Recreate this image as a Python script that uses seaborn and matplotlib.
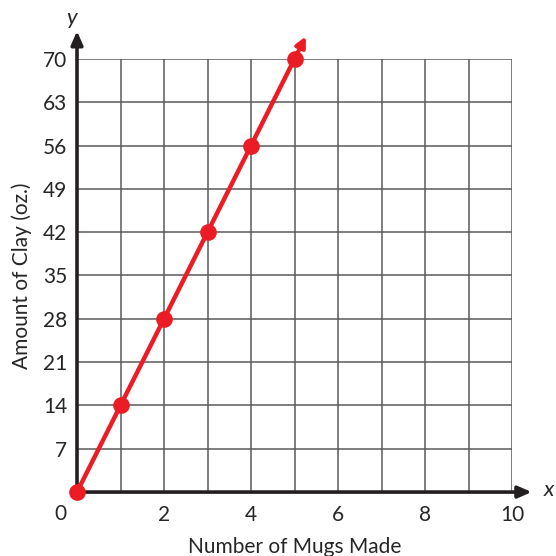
import matplotlib
matplotlib.use("Agg")
import matplotlib.pyplot as plt
import pandas as pd
import seaborn as sns

# data
mugs = [0, 1, 2, 3, 4, 5]
clay = [0, 14, 28, 42, 56, 70]
x_ticks = list(range(0, 11))
x_labels = ["", "", "2", "", "4", "", "6", "", "8", "", "10"]
y_ticks = list(range(0, 71, 7))
y_labels = [""] + [str(v) for v in y_ticks[1:]]

RED = "#ec1c24"
GRID = "#5a5a5a"

sns.set_style("white")
plt.rcParams["font.family"] = ["Lato", "DejaVu Sans"]

df = pd.DataFrame({"mugs": mugs, "clay": clay})

fig = plt.figure(figsize=(5.56, 5.56), dpi=100)
ax = fig.add_axes([0.1385, 0.115, 0.7825, 0.779])

ax.set_xlim(0, 10)
ax.set_ylim(0, 70)
ax.set_xticks(x_ticks)
ax.set_xticklabels(x_labels, fontsize=15)
ax.set_yticks(y_ticks)
ax.set_yticklabels(y_labels, fontsize=15)
ax.tick_params(length=0, pad=7)
ax.tick_params(axis="x", pad=9)
ax.grid(True, color=GRID, linewidth=1.1)
for s in ax.spines.values():
    s.set_visible(False)

# axes with arrows
ax.annotate("", xy=(10.45, 0), xytext=(0, 0), annotation_clip=False,
            arrowprops=dict(arrowstyle="-|>,head_length=0.8,head_width=0.35",
                            color="#231f20", lw=2.6, shrinkA=0, shrinkB=0))
ax.annotate("", xy=(0, 74.5), xytext=(0, 0), annotation_clip=False,
            arrowprops=dict(arrowstyle="-|>,head_length=0.8,head_width=0.35",
                            color="#231f20", lw=2.6, shrinkA=0, shrinkB=0))

sns.lineplot(data=df, x="mugs", y="clay", ax=ax, color=RED, linewidth=3.2,
             marker="o", markersize=12, markeredgewidth=0, clip_on=False, zorder=5)
ax.annotate("", xy=(mugs[-1] + 0.26, clay[-1] + 0.26 * 14), xytext=(mugs[-1], clay[-1]),
            annotation_clip=False, zorder=5,
            arrowprops=dict(arrowstyle="-|>,head_length=0.6,head_width=0.3",
                            color=RED, lw=3, shrinkA=0, shrinkB=0))

ax.set_xlabel("Number of Mugs Made", fontsize=15, labelpad=9)
ax.set_ylabel("Amount of Clay (oz.)", fontsize=15, labelpad=8)

ax.text(-0.38, -2.0, "0", fontsize=15, ha="center", va="top")
ax.text(-0.12, 76.6, "y", fontsize=16, style="italic", ha="center", va="center")
ax.text(10.85, 0.3, "x", fontsize=16, style="italic", ha="center", va="center")

fig.savefig("out.png", dpi=100)
